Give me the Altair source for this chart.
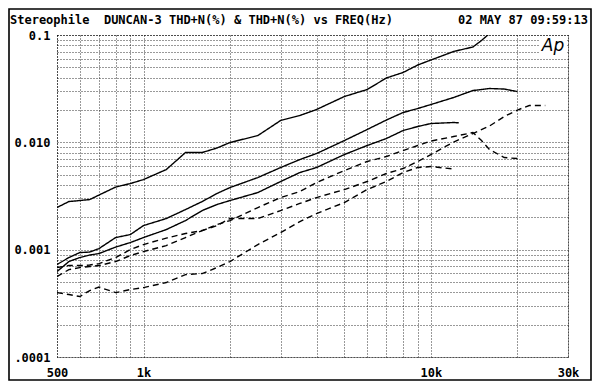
import altair as alt
import pandas as pd

# ---------------- data (values in %) ----------------
freq_std = [500, 550, 600, 650, 700, 800, 900, 1000, 1200, 1400, 1600, 1800, 2000,
            2500, 3000, 3500, 4000, 5000, 6000, 7000, 8000, 9000, 10000, 12000]

top_freq = freq_std + [14000, 15000, 16000]
top_vals = [0.002469, 0.002807, 0.002869, 0.00293, 0.003228, 0.003832, 0.00413, 0.004501,
            0.005578, 0.008035, 0.008035, 0.008847, 0.009957, 0.01157, 0.01597, 0.01778,
            0.02022, 0.02672, 0.03105, 0.03975, 0.04472, 0.05253, 0.05848, 0.0702,
            0.0773, 0.08887, 0.1033]

mid_freq = freq_std + [14000, 16000, 18000, 20000]
mid_vals = [0.000727, 0.000844, 0.00094, 0.00095, 0.001024, 0.001297, 0.001383, 0.001677,
            0.00195, 0.002364, 0.002807, 0.003333, 0.003791, 0.004699, 0.005824, 0.006914,
            0.007864, 0.01039, 0.01316, 0.01614, 0.01895, 0.02065, 0.0225, 0.02616,
            0.03039, 0.03172, 0.03138, 0.02974]

low_freq = freq_std + [12500]
low_vals = [0.000625, 0.000775, 0.000844, 0.000891, 0.00092, 0.001057, 0.001165, 0.001297,
            0.001539, 0.001867, 0.002314, 0.002632, 0.002869, 0.003406, 0.004313, 0.005231,
            0.005824, 0.007698, 0.009338, 0.01085, 0.01288, 0.01404, 0.01497, 0.0153, 0.0152]

dashE_freq = freq_std + [14000, 16000, 18000, 20000, 22000, 25000]
dashE_vals = [0.000681, 0.000711, 0.000711, 0.000719, 0.000742, 0.000844, 0.001002, 0.001116,
              0.001282, 0.001413, 0.001507, 0.001677, 0.00195, 0.00195, 0.002314, 0.002696,
              0.003059, 0.003632, 0.004313, 0.005121, 0.0057, 0.006623, 0.007698, 0.01007,
              0.01208, 0.01419, 0.01739, 0.02, 0.02203, 0.02203]

dashF_freq = freq_std + [14000, 15000, 16000, 18000, 20000]
dashF_vals = [0.000562, 0.000652, 0.000681, 0.000696, 0.000711, 0.000775, 0.000881, 0.00096,
              0.001092, 0.001297, 0.001507, 0.001714, 0.001867, 0.002469, 0.003059, 0.003479,
              0.00422, 0.005463, 0.006623, 0.007375, 0.008386, 0.009338, 0.01028, 0.01132,
              0.01234, 0.01039, 0.008567, 0.007216, 0.007063]

dashG_freq = freq_std
dashG_vals = [0.000398, 0.000382, 0.000366, 0.000416, 0.000448, 0.000398, 0.000425, 0.000443,
              0.000494, 0.000586, 0.000599, 0.000681, 0.000775, 0.001116, 0.001443, 0.001828,
              0.00217, 0.002748, 0.003632, 0.004313, 0.005231, 0.005824, 0.005951, 0.005639]

x_grid = [500, 600, 700, 800, 900, 1000, 2000, 3000, 4000, 5000, 6000, 7000, 8000, 9000,
          10000, 20000, 30000]
y_grid = [0.0001, 0.0002, 0.0003, 0.0004, 0.0005, 0.0006, 0.0007, 0.0008, 0.0009,
          0.001, 0.002, 0.003, 0.004, 0.005, 0.006, 0.007, 0.008, 0.009,
          0.01, 0.02, 0.03, 0.04, 0.05, 0.06, 0.07, 0.08, 0.09, 0.1]

title_left = "Stereophile\u00a0\u00a0DUNCAN-3 THD+N(%) & THD+N(%) vs FREQ(Hz)"
title_right = "02 MAY 87 09:59:13"

series = [
    ("top", "solid", top_freq, top_vals),
    ("mid", "solid", mid_freq, mid_vals),
    ("low", "solid", low_freq, low_vals),
    ("dE", "dashed", dashE_freq, dashE_vals),
    ("dF", "dashed", dashF_freq, dashF_vals),
    ("dG", "dashed", dashG_freq, dashG_vals),
]
rows = []
for name, style, fs, vs in series:
    for i, (f, v) in enumerate(zip(fs, vs)):
        rows.append({"series": name, "style": style, "freq": f, "thd": v, "order": i})
df = pd.DataFrame(rows)

FONT = "DejaVu Sans Mono"

x_label = ("datum.value == 500 ? '500' : datum.value == 1000 ? '1k' : "
           "datum.value == 10000 ? '10k' : datum.value == 30000 ? '30k' : ''")
y_label = ("abs(log(datum.value)/LN10 + 1) < 0.01 ? '0.1' : "
           "abs(log(datum.value)/LN10 + 2) < 0.01 ? '0.010' : "
           "abs(log(datum.value)/LN10 + 3) < 0.01 ? '0.001' : "
           "abs(log(datum.value)/LN10 + 4) < 0.01 ? '.0001' : ''")

x_enc = alt.X("freq:Q",
              scale=alt.Scale(type="log", domain=[500, 30000], nice=False),
              axis=alt.Axis(values=x_grid, labelExpr=x_label, title=None, ticks=False,
                            tickSize=0, domain=False, grid=True, gridDash=[1, 2],
                            gridColor="black", gridOpacity=0.8, labelFont=FONT,
                            labelFontWeight="bold", labelFontSize=12, labelColor="black",
                            labelPadding=10, labelFlush=False, labelOverlap=False))
y_enc = alt.Y("thd:Q",
              scale=alt.Scale(type="log", domain=[0.0001, 0.1], nice=False),
              axis=alt.Axis(values=y_grid, labelExpr=y_label, title=None, ticks=False,
                            tickSize=0, domain=False, grid=True, gridDash=[1, 2],
                            gridColor="black", gridOpacity=0.8, labelFont=FONT,
                            labelFontWeight="bold", labelFontSize=12, labelColor="black",
                            labelPadding=7, labelFlush=False, labelOverlap=False))

lines = alt.Chart(df).mark_line(color="black", strokeWidth=1.4, clip=True).encode(
    x=x_enc,
    y=y_enc,
    detail="series:N",
    order="order:Q",
    strokeDash=alt.StrokeDash("style:N",
                              scale=alt.Scale(domain=["solid", "dashed"],
                                              range=[[1, 0], [6, 4]]),
                              legend=None),
)

one = pd.DataFrame({"k": [0]})

ap_box = alt.Chart(one).mark_rect(color="white").encode(
    x=alt.value(482), x2=alt.value(510), y=alt.value(2), y2=alt.value(22))
ap_text = alt.Chart(one).mark_text(text="Ap", font="DejaVu Sans", fontStyle="italic",
                                   fontSize=17, color="black", align="center",
                                   baseline="middle").encode(
    x=alt.value(496), y=alt.value(11))

frame = alt.Chart(one).mark_rect(fillOpacity=0, stroke="black", strokeWidth=1.6).encode(
    x=alt.value(-48), x2=alt.value(534), y=alt.value(-26), y2=alt.value(345))

t_left = alt.Chart(one).mark_text(text=title_left, font=FONT, fontWeight="bold",
                                  fontSize=12, color="black", align="left",
                                  baseline="middle").encode(
    x=alt.value(-47), y=alt.value(-15))
t_right = alt.Chart(one).mark_text(text=title_right, font=FONT, fontWeight="bold",
                                   fontSize=12, color="black", align="right",
                                   baseline="middle").encode(
    x=alt.value(531), y=alt.value(-15))

chart = alt.layer(lines, ap_box, ap_text, frame, t_left, t_right).properties(
    width=511, height=322,
    autosize=alt.AutoSizeParams(type="none"),
    padding={"left": 49, "top": 27, "right": 24, "bottom": 24},
    background="white",
).configure_view(stroke="black", strokeDash=[1, 2], strokeWidth=1)

chart.save("out.html", embed_options={"renderer": "svg", "actions": False})
